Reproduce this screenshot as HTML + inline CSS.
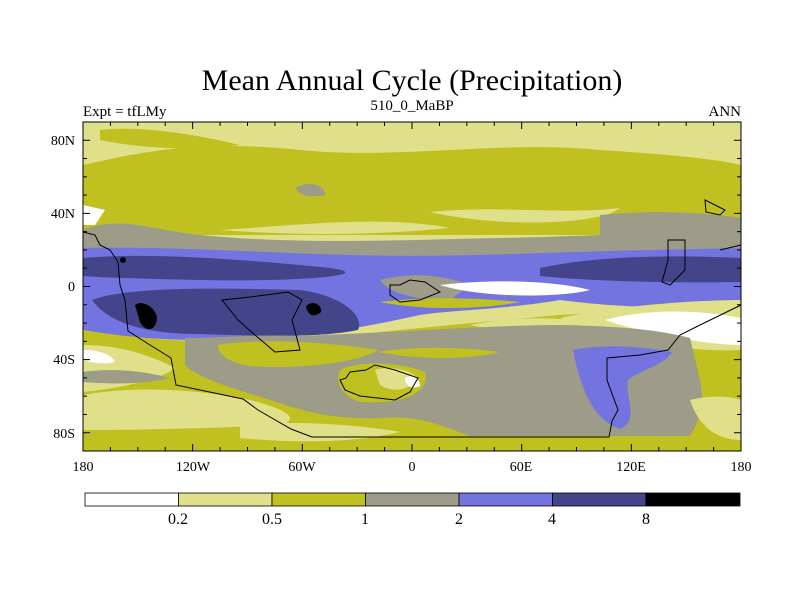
<!DOCTYPE html>
<html><head><meta charset="utf-8"><style>
body{margin:0;background:#fff;width:800px;height:600px;overflow:hidden}
svg{font-family:"Liberation Serif",serif}
</style></head><body>
<svg width="800" height="600" viewBox="0 0 800 600">
<text x="412" y="90" font-size="30" text-anchor="middle">Mean Annual Cycle (Precipitation)</text>
<text x="83" y="116" font-size="15">Expt = tfLMy</text>
<text x="412" y="110" font-size="15" text-anchor="middle">510_0_MaBP</text>
<text x="741" y="116" font-size="15" text-anchor="end">ANN</text>
<defs><clipPath id="pc"><rect x="83" y="122" width="658" height="329"/></clipPath></defs>
<g clip-path="url(#pc)">
<rect x="83" y="122" width="658" height="329" fill="#e0e08a"/>
<!-- northern olive -->
<path d="M83 165 C150 150 200 140 300 150 C400 160 500 140 600 150 C680 155 720 160 741 165 L741 235 L83 235 Z" fill="#c0c020"/>
<path d="M100 130 C140 125 200 135 240 145 C200 150 150 150 100 140 Z" fill="#c0c020"/>
<path d="M220 230 C300 225 380 215 450 228 C380 235 300 236 220 230 Z" fill="#e0e08a"/>
<path d="M430 212 C500 205 560 215 620 208 C600 225 500 228 430 212 Z" fill="#e0e08a"/>
<path d="M295 188 C310 180 325 185 325 195 C310 198 300 196 295 188 Z" fill="#9c9c88"/>
<path d="M600 215 C650 210 700 212 741 218 L741 240 L600 238 Z" fill="#9c9c88"/>
<!-- gray band -->
<path d="M83 230 C120 215 150 230 200 235 C300 245 400 240 500 238 C600 236 680 230 741 235 L741 262 L83 262 Z" fill="#9c9c88"/>
<path d="M83 205 L105 210 L95 225 L83 225 Z" fill="#fff"/>
<!-- blue band -->
<path d="M83 248 C150 246 250 252 350 255 C450 258 550 252 650 250 L741 248 L741 305 C650 310 600 305 560 300 C500 310 450 310 420 315 C350 330 300 340 200 340 C150 340 110 335 83 330 Z" fill="#7474e0"/>
<path d="M83 258 C150 252 250 260 330 268 C380 275 300 282 200 280 C150 279 110 278 83 276 Z" fill="#44448a"/>
<path d="M540 268 C600 255 680 255 741 258 L741 282 C680 283 600 282 540 276 Z" fill="#44448a"/>
<path d="M92 300 C130 286 220 288 300 290 C340 295 365 315 358 330 C320 338 260 336 200 334 C150 334 110 325 92 300 Z" fill="#44448a"/>
<path d="M135 305 C140 300 155 305 157 318 C156 332 145 332 140 322 Z" fill="#000"/>
<path d="M306 306 C312 300 322 304 321 312 C314 318 308 316 306 306 Z" fill="#000"/>
<circle cx="123" cy="260" r="3" fill="#000"/>
<path d="M380 280 C420 270 450 278 470 285 L450 300 C420 300 390 295 380 280 Z" fill="#9c9c88"/>
<path d="M440 285 C500 278 560 282 590 290 C560 298 480 298 440 285 Z" fill="#fff"/>
<path d="M380 302 C430 296 480 298 520 302 C480 310 420 310 380 302 Z" fill="#c0c020"/>
<!-- southern region base olive -->
<path d="M83 330 C130 338 200 345 300 340 C400 330 500 320 560 315 C620 312 680 305 741 300 L741 451 L83 451 Z" fill="#c0c020"/>
<path d="M560 318 C620 305 700 300 741 300 L741 350 C700 352 650 345 600 335 Z" fill="#e0e08a"/>
<path d="M605 320 C650 308 700 310 741 318 L741 345 C710 345 650 335 605 320 Z" fill="#fff"/>
<path d="M470 325 C520 315 560 318 590 322 C560 330 500 332 470 325 Z" fill="#e0e08a"/>
<!-- gray southern -->
<path d="M185 338 C215 338 260 334 300 336 C400 332 500 325 560 325 C620 326 660 330 690 338 L700 380 C705 400 700 420 690 436 L470 436 C440 425 420 415 380 418 C330 420 300 410 270 400 C240 390 200 380 185 365 Z" fill="#9c9c88"/>
<path d="M218 345 C260 338 330 342 378 350 C360 362 300 370 250 366 C228 362 218 355 218 345 Z" fill="#c0c020"/>
<path d="M378 352 C420 345 470 348 500 352 C470 360 420 360 378 352 Z" fill="#c0c020"/>
<path d="M573 350 C600 344 640 346 672 352 C665 365 640 370 628 380 C625 400 640 420 620 429 C595 420 582 395 573 350 Z" fill="#7474e0"/>
<path d="M83 345 C120 345 150 355 175 368 C160 380 120 388 83 392 Z" fill="#e0e08a"/>
<path d="M83 350 C100 350 112 355 115 362 C100 365 90 362 83 360 Z" fill="#fff"/>
<path d="M83 372 C110 368 140 370 170 378 C140 385 110 384 83 382 Z" fill="#9c9c88"/>
<path d="M83 395 C140 385 200 390 250 400 C290 410 300 420 280 425 C220 428 150 430 83 430 Z" fill="#e0e08a"/>
<path d="M240 425 C300 420 360 425 400 432 C360 442 300 444 240 438 Z" fill="#e0e08a"/>
<path d="M690 400 C710 395 730 396 741 400 L741 440 C720 440 700 430 690 400 Z" fill="#e0e08a"/>
<path d="M340 370 C360 360 400 362 425 372 C430 390 410 405 360 402 C340 395 335 382 340 370 Z" fill="#c0c020"/>
<path d="M375 370 C390 365 410 370 418 378 C410 392 390 392 380 385 Z" fill="#e0e08a"/>
<path d="M405 378 C412 374 420 378 420 386 C412 390 405 386 405 378 Z" fill="#fff"/>
<path d="M83 443 L741 443 L741 451 L83 451 Z" fill="#c0c020"/>
</g>
<!-- coastlines -->
<g fill="none" stroke="#000" stroke-width="1">
<path d="M83 232 L95 235 L100 245 L110 250 L118 262 L120 285 L125 300 L128 331 L150 345 L171 358 L176 385 L243 399 L258 410 L291 429 L312 437 L609 437 L612 421 L618 410 L607 380 L607 358 L640 355 L668 350 L680 335 L700 325 L741 305"/>
<path d="M222 300 L250 297 L288 292 L302 300 L292 320 L300 350 L275 352 L255 335 L238 320 Z"/>
<path d="M390 285 L400 285 L410 280 L425 282 L440 292 L420 300 L400 302 L390 295 Z"/>
<path d="M340 380 L346 378 L350 372 L366 370 L375 365 L395 370 L418 378 L410 392 L395 400 L360 396 L345 390 Z"/>
<path d="M668 240 L685 240 L685 270 L670 285 L662 282 L668 260 Z"/>
<path d="M705 200 L715 205 L725 210 L720 215 L706 212 Z"/>
<path d="M720 250 L741 245"/>
</g>
<rect x="83" y="122" width="658" height="329" fill="none" stroke="#000"/>
<g id="ticks" stroke="#000"></g>
<g font-size="14" text-anchor="end">
<text x="75" y="145">80N</text><text x="75" y="218">40N</text><text x="75" y="291">0</text><text x="75" y="364">40S</text><text x="75" y="438">80S</text>
</g>
<g font-size="14" text-anchor="middle">
<text x="83" y="471">180</text><text x="193" y="471">120W</text><text x="302" y="471">60W</text><text x="412" y="471">0</text><text x="521" y="471">60E</text><text x="631" y="471">120E</text><text x="741" y="471">180</text>
</g>
<g stroke="#000" stroke-width="0.8">
<rect x="85" y="493" width="93.5" height="13" fill="#fff"/>
<rect x="178.5" y="493" width="93.5" height="13" fill="#e0e08a"/>
<rect x="272" y="493" width="93.5" height="13" fill="#c0c020"/>
<rect x="365.5" y="493" width="93.5" height="13" fill="#9c9c88"/>
<rect x="459" y="493" width="93.5" height="13" fill="#7474e0"/>
<rect x="552.5" y="493" width="93.5" height="13" fill="#44448a"/>
<rect x="646" y="493" width="94" height="13" fill="#000"/>
</g>
<g font-size="16" text-anchor="middle">
<text x="178" y="524">0.2</text><text x="272" y="524">0.5</text><text x="365" y="524">1</text><text x="459" y="524">2</text><text x="552" y="524">4</text><text x="646" y="524">8</text>
</g>
</svg>
<script>
var g=document.getElementById('ticks');
function ln(x1,y1,x2,y2){var l=document.createElementNS('http://www.w3.org/2000/svg','line');
l.setAttribute('x1',x1);l.setAttribute('y1',y1);l.setAttribute('x2',x2);l.setAttribute('y2',y2);


g.appendChild(l);}
for(var lon=-180;lon<=180;lon+=15){var x=83+(lon+180)/360*658;var m=lon%60==0?7:4;ln(x,122,x,122+m);ln(x,451,x,451-m);}
for(var lat=-90;lat<=90;lat+=10){var y=286.5-lat*1.828;var m=lat%40==0?7:4;ln(83,y,83+m,y);ln(741,y,741-m,y);}
</script>
</body></html>
